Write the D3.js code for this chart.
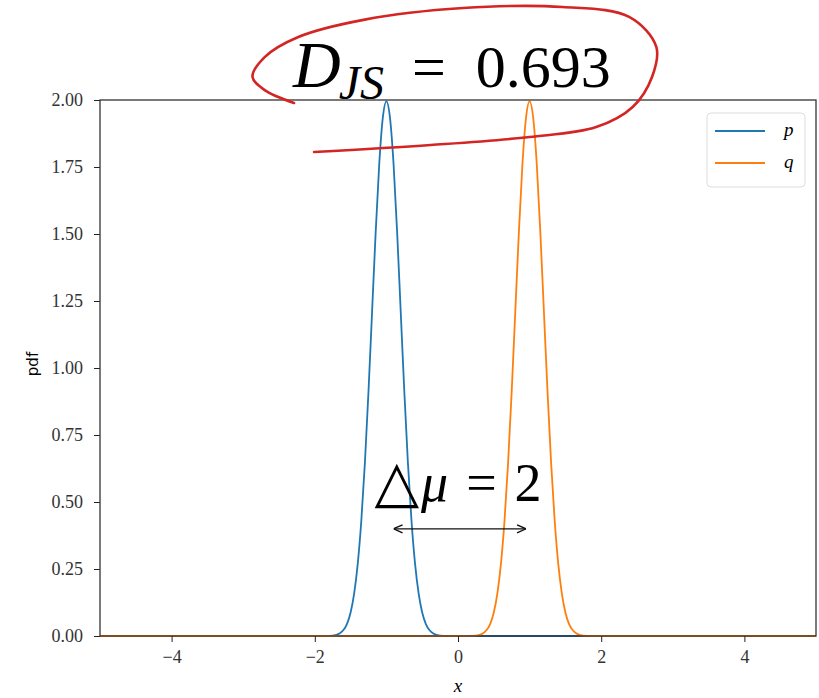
<!DOCTYPE html>
<html>
<head>
<meta charset="utf-8">
<script src="https://cdn.jsdelivr.net/npm/d3@7"></script>
<style>
  body { margin: 0; background: #fff; }
  svg { display: block; }
</style>
</head>
<body>
<script>
// values (density of p and q)
var pX = [-5, -2.0, -1.8, -1.7, -1.65, -1.6, -1.55, -1.5, -1.45, -1.4, -1.35, -1.3, -1.25, -1.2, -1.15, -1.1, -1.05, -1.0,
          -0.95, -0.9, -0.85, -0.8, -0.75, -0.7, -0.65, -0.6, -0.55, -0.5, -0.45, -0.4, -0.35, -0.3, -0.2, 0.0, 5];
var pY = [0, 0, 0.0007, 0.0044, 0.0101, 0.0222, 0.0455, 0.0876, 0.159, 0.270, 0.432, 0.648, 0.913, 1.210, 1.506, 1.761, 1.934, 1.995,
          1.934, 1.761, 1.506, 1.210, 0.913, 0.648, 0.432, 0.270, 0.159, 0.0876, 0.0455, 0.0222, 0.0101, 0.0044, 0.0007, 0, 0];
var qX = [-5, 0.0, 0.2, 0.3, 0.35, 0.4, 0.45, 0.5, 0.55, 0.6, 0.65, 0.7, 0.75, 0.8, 0.85, 0.9, 0.95, 1.0,
          1.05, 1.1, 1.15, 1.2, 1.25, 1.3, 1.35, 1.4, 1.45, 1.5, 1.55, 1.6, 1.65, 1.7, 1.8, 2.0, 5];
var qY = [0, 0, 0.0007, 0.0044, 0.0101, 0.0222, 0.0455, 0.0876, 0.159, 0.270, 0.432, 0.648, 0.913, 1.210, 1.506, 1.761, 1.934, 1.995,
          1.934, 1.761, 1.506, 1.210, 0.913, 0.648, 0.432, 0.270, 0.159, 0.0876, 0.0455, 0.0222, 0.0101, 0.0044, 0.0007, 0, 0];

var xTicks = [-4, -2, 0, 2, 4];
var yTicks = [0, 0.25, 0.5, 0.75, 1.0, 1.25, 1.5, 1.75, 2.0];
var seriesNames = ['p', 'q'];
var seriesColors = ['#1f77b4', '#ff7f0e'];

var titleValue = '0.693';
var deltaMu = 2;
var arrowFrom = -0.9, arrowTo = 0.95, arrowLevel = 0.40;

// hand drawn red loop around the title (data units)
var loopX = [-2.29, -2.70, -2.87, -2.70, -2.23, -1.32, 0.07, 1.46, 2.39, 2.77, 2.71, 2.44, 1.93, 1.00, -0.38, -2.01];
var loopY = [1.989, 2.037, 2.086, 2.160, 2.235, 2.299, 2.343, 2.347, 2.310, 2.198, 2.086, 1.974, 1.899, 1.862, 1.832, 1.806];

var W = 819, H = 698;
var margin = { top: 100, right: 3, bottom: 62, left: 100 };

var x = d3.scaleLinear().domain([-5, 5]).range([margin.left, W - margin.right]);
var y = d3.scaleLinear().domain([0, 2]).range([H - margin.bottom, margin.top]);

var svg = d3.select('body').append('svg')
    .attr('width', W)
    .attr('height', H)
    .attr('xmlns', 'http://www.w3.org/2000/svg');

var serif = '"Liberation Serif", "DejaVu Serif", serif';

// curves
var line = d3.line()
    .x(function (d) { return x(d[0]); })
    .y(function (d) { return y(d[1]); })
    .curve(d3.curveMonotoneX);

var series = [d3.zip(pX, pY), d3.zip(qX, qY)];
series.forEach(function (s, i) {
    svg.append('path')
        .datum(s)
        .attr('fill', 'none')
        .attr('stroke', seriesColors[i])
        .attr('stroke-width', 1.8)
        .attr('d', line);
});

// axes
var xAxis = svg.append('g')
    .attr('transform', 'translate(0,' + y(0) + ')')
    .call(d3.axisBottom(x).tickValues(xTicks).tickSize(6).tickSizeOuter(0)
        .tickFormat(function (d) { return d < 0 ? '\u2212' + Math.abs(d) : d; }));
var yAxis = svg.append('g')
    .attr('transform', 'translate(' + x(-5) + ',0)')
    .call(d3.axisLeft(y).tickValues(yTicks).tickSize(6).tickSizeOuter(0).tickFormat(d3.format('.2f')));

[xAxis, yAxis].forEach(function (a) {
    a.select('.domain').remove();
    a.selectAll('line').attr('stroke', '#222').attr('stroke-width', 1);
    a.selectAll('text').attr('font-family', serif).attr('font-size', 18).attr('fill', '#333');
});
xAxis.selectAll('text').attr('dy', '1.0em');
yAxis.selectAll('text').attr('x', -17);

// frame
svg.append('rect')
    .attr('x', x(-5)).attr('y', y(2))
    .attr('width', x(5) - x(-5)).attr('height', y(0) - y(2))
    .attr('fill', 'none').attr('stroke', '#333').attr('stroke-width', 1.3);

// axis labels
svg.append('text')
    .attr('x', x(0)).attr('y', 692)
    .attr('text-anchor', 'middle')
    .attr('font-family', serif).attr('font-style', 'italic').attr('font-size', 19)
    .text('x');
svg.append('text')
    .attr('transform', 'translate(38,' + (y(1) - 4) + ') rotate(-90)')
    .attr('text-anchor', 'middle')
    .attr('font-family', '"DejaVu Sans", sans-serif').attr('font-size', 15)
    .text('pdf');

// legend
var lg = svg.append('g');
lg.append('rect')
    .attr('x', 707).attr('y', 113).attr('width', 98).attr('height', 74)
    .attr('rx', 4).attr('fill', '#fff').attr('stroke', '#ddd');
seriesNames.forEach(function (n, i) {
    var ly = 131 + i * 32;
    lg.append('line')
        .attr('x1', 715).attr('x2', 765).attr('y1', ly).attr('y2', ly)
        .attr('stroke', seriesColors[i]).attr('stroke-width', 2);
    lg.append('text')
        .attr('x', 784).attr('y', ly + 5)
        .attr('font-family', serif).attr('font-style', 'italic').attr('font-size', 19)
        .text(n);
});

// title  D_JS = 0.693
var title = svg.append('text')
    .attr('x', x(0) - 165).attr('y', 87)
    .attr('font-family', serif).attr('font-size', 60);
title.append('tspan').attr('font-style', 'italic').attr('font-size', 66).text('D');
title.append('tspan').attr('font-style', 'italic').attr('font-size', 48).attr('dy', 12).attr('dx', -2).text('JS');
title.append('tspan').attr('dy', -12).attr('dx', 28).text('=');
title.append('tspan').attr('dx', 30).text(titleValue);

// delta mu annotation
var dm = svg.append('text')
    .attr('x', x(0)).attr('y', y(0.5) - 1)
    .attr('text-anchor', 'middle')
    .attr('font-family', serif).attr('font-size', 54);
dm.append('tspan').attr('font-size', 58).text('\u25B3');
dm.append('tspan').attr('font-style', 'italic').attr('dx', 2).text('\u03BC');
dm.append('tspan').attr('dx', 18).text('=');
dm.append('tspan').attr('dx', 18).text(deltaMu);

var defs = svg.append('defs');
defs.append('marker')
    .attr('id', 'head')
    .attr('viewBox', '0 0 10 10')
    .attr('refX', 10).attr('refY', 5)
    .attr('markerWidth', 10).attr('markerHeight', 10)
    .attr('markerUnits', 'userSpaceOnUse')
    .attr('orient', 'auto-start-reverse')
    .append('path')
    .attr('d', 'M1,1 L10,5 L1,9')
    .attr('fill', 'none').attr('stroke', '#111').attr('stroke-width', 1.4);
svg.append('line')
    .attr('x1', x(arrowFrom)).attr('x2', x(arrowTo))
    .attr('y1', y(arrowLevel)).attr('y2', y(arrowLevel))
    .attr('stroke', '#111').attr('stroke-width', 1.3)
    .attr('marker-start', 'url(#head)').attr('marker-end', 'url(#head)');

// red loop
svg.append('path')
    .datum(d3.zip(loopX, loopY))
    .attr('fill', 'none')
    .attr('stroke', '#d42525').attr('stroke-width', 2.6)
    .attr('stroke-linecap', 'round')
    .attr('d', d3.line()
        .x(function (d) { return x(d[0]); })
        .y(function (d) { return y(d[1]); })
        .curve(d3.curveCatmullRom));
</script>
</body>
</html>
